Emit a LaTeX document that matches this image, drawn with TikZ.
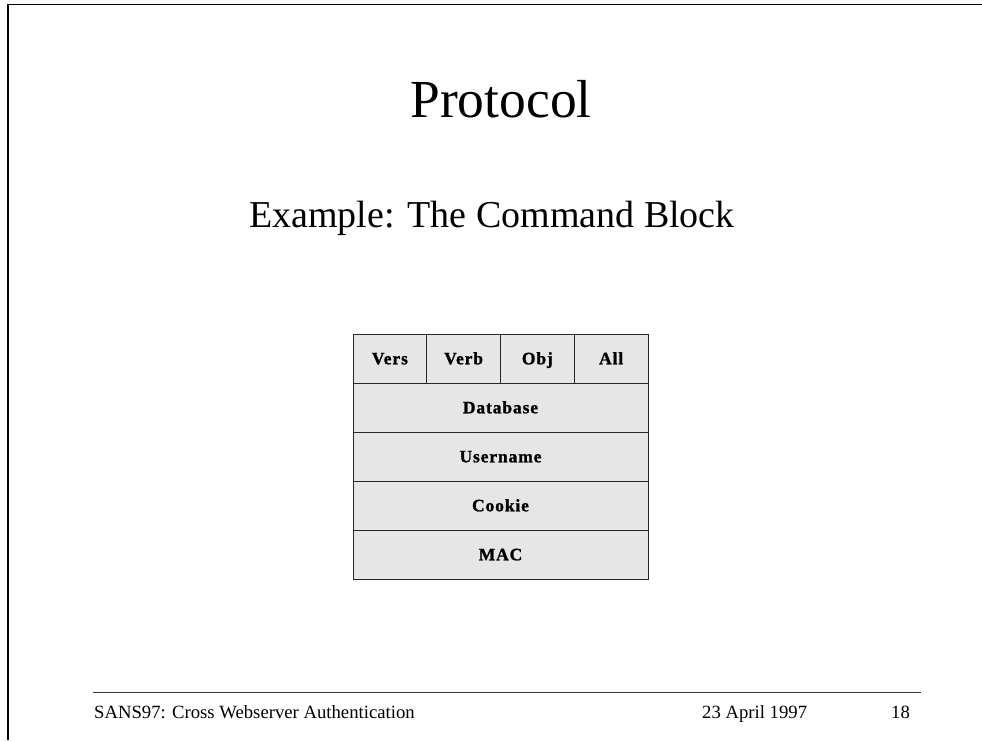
\documentclass[tikz,border=0pt]{standalone}
\usepackage{fontspec}
\setmainfont{Liberation Serif}
\newfontfamily\cellfont[LetterSpace=5,BoldFeatures={FakeBold=1.2}]{Liberation Serif}
\definecolor{cellgray}{HTML}{E6E6E6}
\begin{document}
\begin{tikzpicture}[x=1pt,y=-1pt,
  cell/.style={draw=black!85, line width=0.9pt, fill=cellgray,
    minimum height=49pt, inner sep=0pt, outer sep=0pt,
    font=\cellfont\bfseries\fontsize{17.5}{20}\selectfont,
    text height=11.6pt, text depth=0pt},
  narrow/.style={cell, minimum width=73.75pt},
  wide/.style={cell, minimum width=295pt},
  foot/.style={anchor=base west, inner sep=0pt, font=\fontsize{18.7}{22}\selectfont}]
\useasboundingbox (0,0) rectangle (982,740);

% slide frame: top and left edges
\draw[line width=1.5pt] (8,740) -- (8,4.5) -- (982,4.5);

% headings
\node[anchor=base, inner sep=0pt, font=\fontsize{53.5}{60}\selectfont] (title) at (501,117) {Protocol};
\node[anchor=base, inner sep=0pt, font=\fontsize{38}{44}\selectfont] (subtitle) at (492,227) {Example: The Command Block};

% command block layout
\node[narrow] (vers) at (389.875,358.5) {Vers};
\node[narrow] (verb) at (463.625,358.5) {Verb};
\node[narrow] (obj)  at (537.375,358.5) {Obj};
\node[narrow] (all)  at (611.125,358.5) {All};
\node[wide] (database) at (500.5,407.5) {Database};
\node[wide] (username) at (500.5,456.5) {Username};
\node[wide] (cookie)   at (500.5,505.5) {Cookie};
\node[wide] (mac)      at (500.5,554.5) {MAC};

% footer
\coordinate (footL) at (93,692.5);
\coordinate (footR) at (921,692.5);
\draw[line width=0.9pt, black!80] (footL) -- (footR);
\node[foot] (talk) at (94,718) {SANS97: Cross Webserver Authentication};
\node[foot] (date) at (702,718) {23 April 1997};
\node[foot] (page) at (891,718) {18};
\end{tikzpicture}
\end{document}
